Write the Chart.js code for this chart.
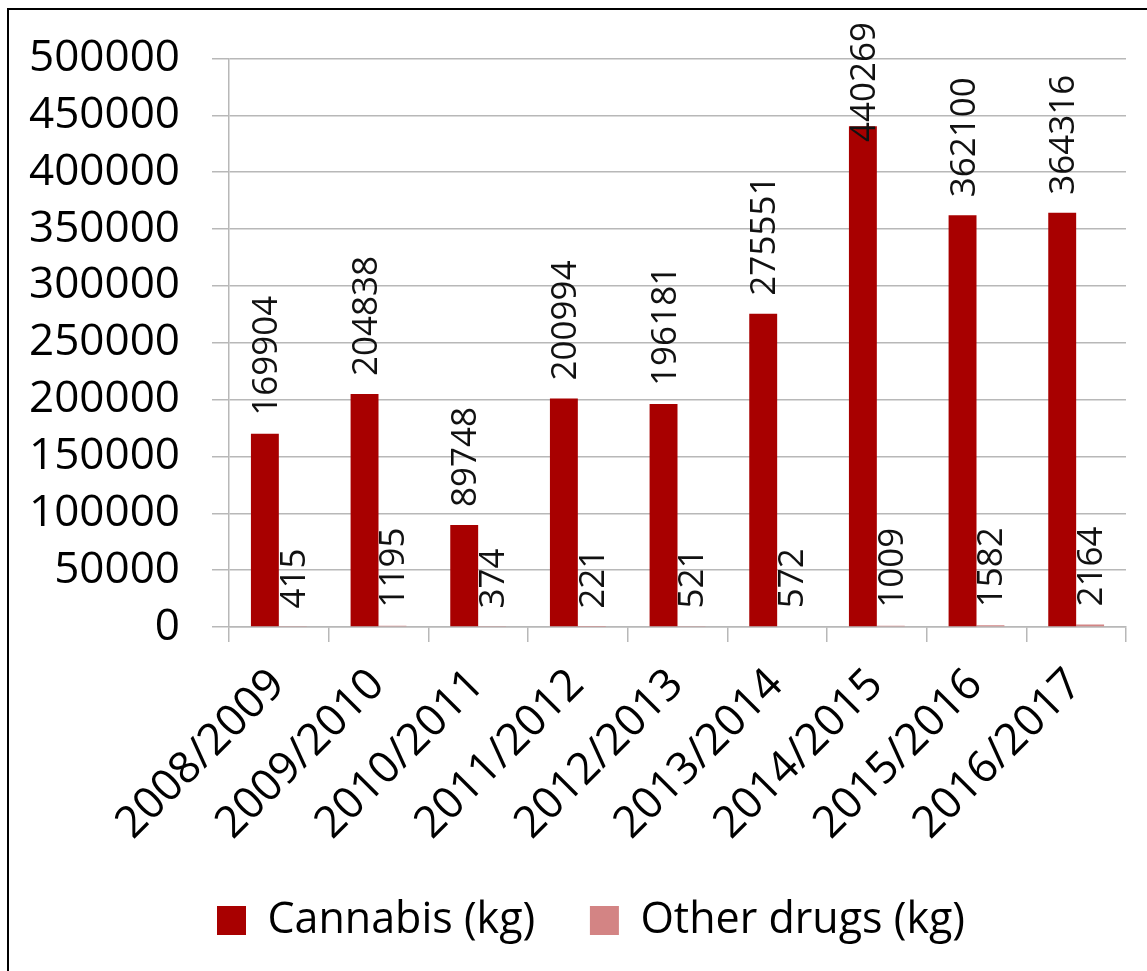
<!DOCTYPE html>
<html>
<head>
<meta charset="utf-8">
<script src="https://cdn.jsdelivr.net/npm/chart.js@4.4.1/dist/chart.umd.min.js"></script>
<style>
  html, body { margin: 0; padding: 0; background: #fff; }
  #wrap { position: relative; width: 1147px; height: 971px; overflow: hidden; }
  #frame { position: absolute; left: 7px; top: 8px; width: 1200px; height: 1100px; border-left: 2px solid #000; border-top: 2px solid #000; pointer-events: none; }
  canvas { position: absolute; left: 0; top: 0; }
</style>
</head>
<body>
<div id="wrap">
  <canvas id="c" width="1147" height="971"></canvas>
  <div id="frame"></div>
</div>
<script>
const categories = ['2008/2009','2009/2010','2010/2011','2011/2012','2012/2013','2013/2014','2014/2015','2015/2016','2016/2017'];
const cannabisKg = [169904, 204838, 89748, 200994, 196181, 275551, 440269, 362100, 364316];
const otherDrugsKg = [415, 1195, 374, 221, 521, 572, 1009, 1582, 2164];
const seriesNames = ['Cannabis (kg)', 'Other drugs (kg)'];
const yTicks = { min: 0, max: 500000, step: 50000 };

const FONT = "'Open Sans', 'DejaVu Sans', sans-serif";

const valueLabels = {
  id: 'valueLabels',
  afterDatasetsDraw(chart) {
    const ctx = chart.ctx;
    ctx.save();
    ctx.font = '35px ' + FONT;
    ctx.fillStyle = '#111';
    ctx.textAlign = 'left';
    ctx.textBaseline = 'middle';
    chart.data.datasets.forEach((ds, di) => {
      const meta = chart.getDatasetMeta(di);
      meta.data.forEach((el, i) => {
        const txt = String(ds.data[i]);
        const w = ctx.measureText(txt).width;
        let start = el.y - 18;
        if (start - w < 22) start = 22 + w;
        ctx.save();
        ctx.translate(el.x + 2, start);
        ctx.rotate(-Math.PI / 2);
        ctx.fillText(txt, 0, 0);
        ctx.restore();
      });
    });
    ctx.restore();
  }
};

// shift the (centred) legend slightly right, as in the original
const legendShift = {
  id: 'legendShift',
  afterLayout(chart) {
    if (chart.legend) { chart.legend.left += 28; chart.legend.right += 28; }
  }
};

new Chart(document.getElementById('c'), {
  type: 'bar',
  data: {
    labels: categories,
    datasets: [
      { label: seriesNames[0], data: cannabisKg, backgroundColor: '#a80000', borderWidth: 0 },
      { label: seriesNames[1], data: otherDrugsKg, backgroundColor: '#d38484', borderWidth: 0 }
    ]
  },
  options: {
    responsive: false,
    animation: false,
    devicePixelRatio: 1,
    layout: { padding: { top: 55, right: 21, bottom: 19, left: 0 } },
    datasets: { bar: { categoryPercentage: 0.56, barPercentage: 1.0 } },
    plugins: {
      legend: {
        position: 'bottom',
        labels: {
          font: { family: FONT, size: 43 },
          color: '#000',
          boxWidth: 29,
          boxHeight: 29,
          padding: 10,
          generateLabels(chart) {
            const items = Chart.defaults.plugins.legend.labels.generateLabels(chart);
            if (items.length) items[0].text = items[0].text + '    ';
            return items;
          }
        }
      },
      tooltip: { enabled: false }
    },
    scales: {
      x: {
        grid: { drawOnChartArea: false, drawTicks: true, tickLength: 15, color: '#b8b8b8', lineWidth: 1.5, offset: true },
        border: { display: true, color: '#b8b8b8', width: 1.5 },
        ticks: { font: { family: FONT, size: 44 }, color: '#000', minRotation: 45, maxRotation: 45, padding: 17, labelOffset: -1, autoSkip: false },
        afterFit(scale) { scale.height = 262; }
      },
      y: {
        min: yTicks.min,
        max: yTicks.max,
        grid: { color: '#b8b8b8', lineWidth: 1.5, tickLength: 17 },
        border: { display: true, color: '#b8b8b8', width: 1.5 },
        ticks: { stepSize: yTicks.step, font: { family: FONT, size: 44 }, color: '#000', padding: 32, callback: (v) => String(v) },
        afterFit(scale) { scale.width = 229; }
      }
    }
  },
  plugins: [valueLabels, legendShift]
});
</script>
</body>
</html>
